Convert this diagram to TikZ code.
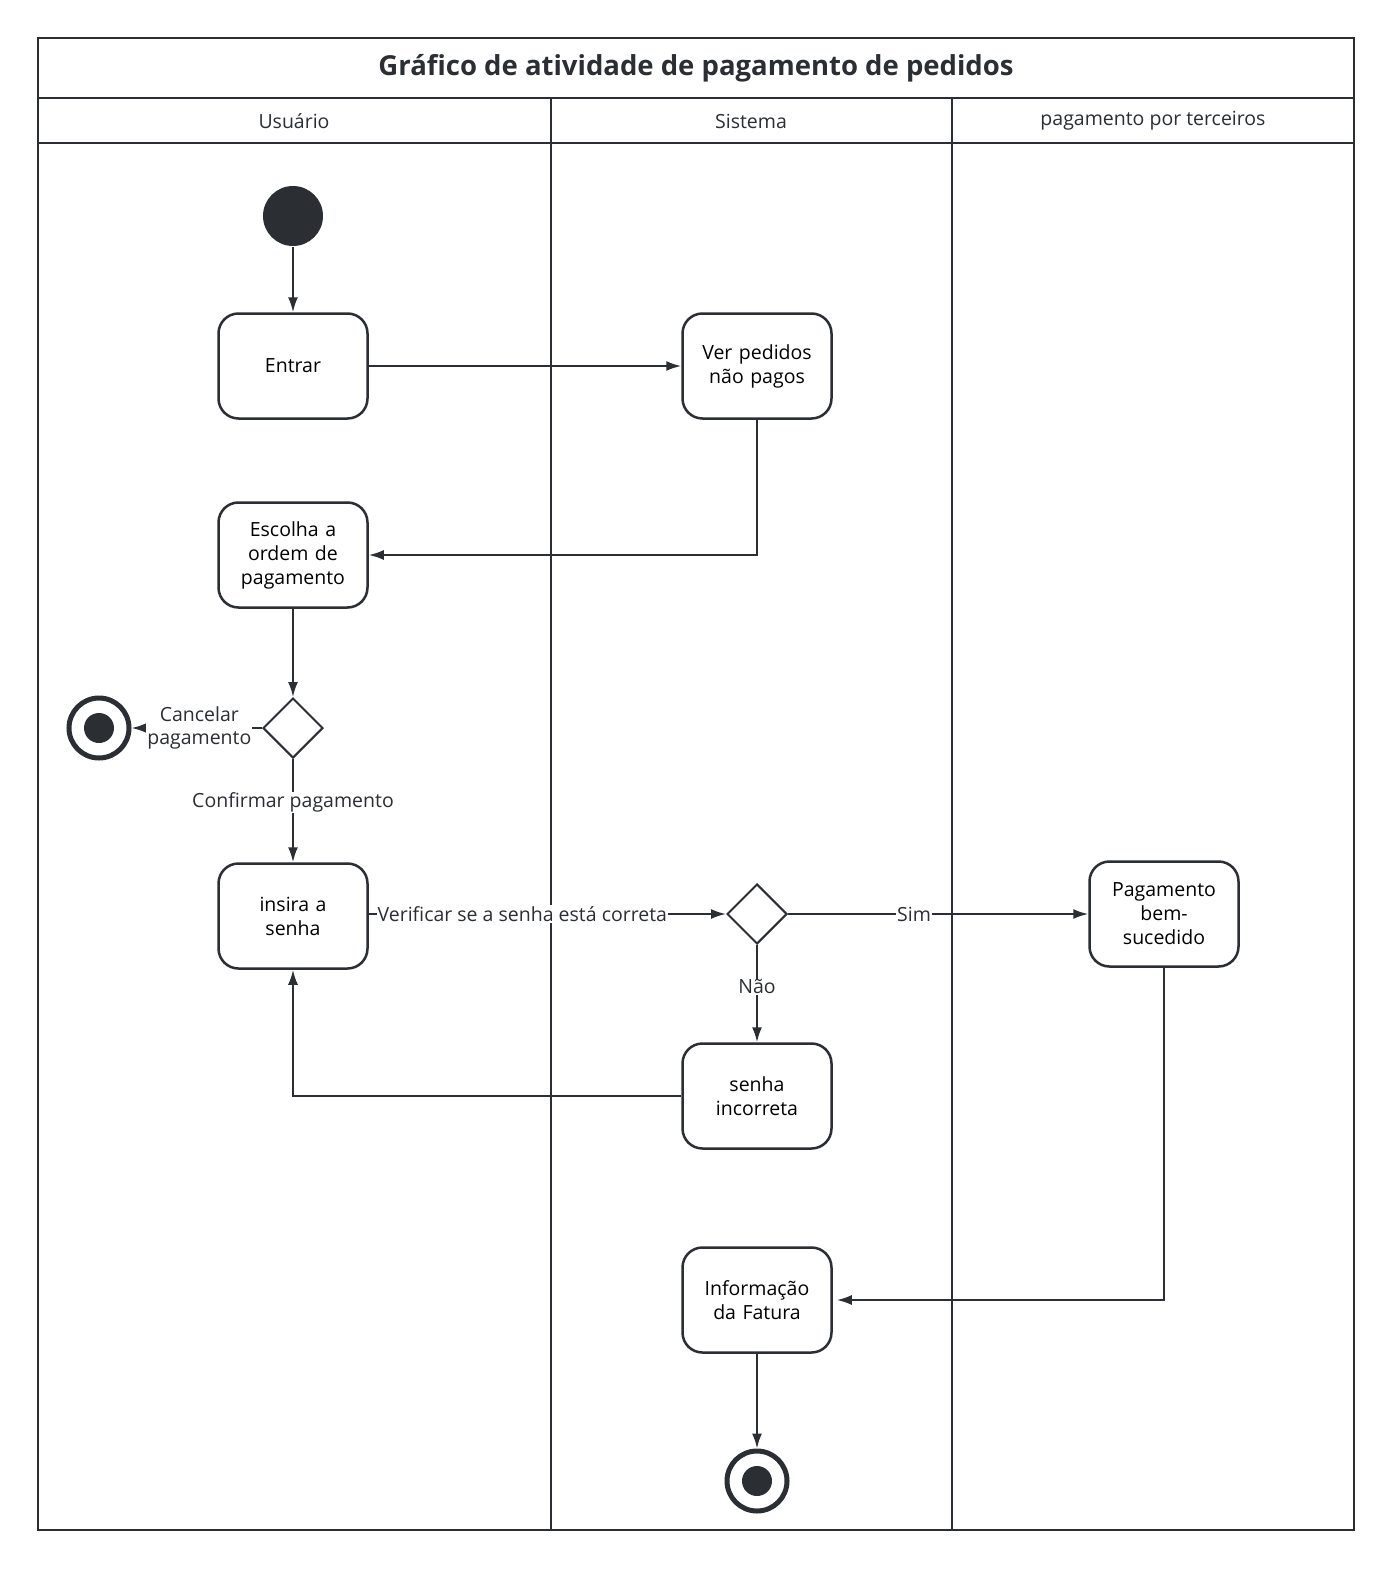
\documentclass[tikz,border=0pt]{standalone}
\usepackage{fontspec}
\setmainfont{Open Sans}
\usetikzlibrary{shapes.geometric,arrows.meta}
\definecolor{ink}{HTML}{2B2E33}
\begin{document}
\begin{tikzpicture}[x=1pt,y=-1pt,line width=2.8pt,draw=ink,
  act/.style={draw=ink,line width=2.5pt,rounded corners=20pt,minimum width=149pt,minimum height=105pt,align=center,font=\fontsize{19.5}{24}\selectfont,text width=120pt},
  dec/.style={draw=ink,diamond,minimum width=60pt,minimum height=60pt,inner sep=0pt,aspect=1,line width=2pt},
  arr/.style={-{Latex[length=15pt,width=10pt]},line width=2pt,ink},
  lbl/.style={fill=white,inner sep=1pt,font=\fontsize{19.5}{23}\selectfont,text=ink,align=center}]
\useasboundingbox (0,0) rectangle (1393,1570);
\fill[white] (0,0) rectangle (1393,1570);
\draw (38,38) rectangle (1354,1530);
\draw (38,98) -- (1354,98);
\draw (38,143) -- (1354,143);
\draw (551,98) -- (551,1530);
\draw (952,98) -- (952,1530);
\node[font=\bfseries\fontsize{27.5}{31}\selectfont,text=ink] (title) at (696,68) {Gráfico de atividade de pagamento de pedidos};
\node[font=\fontsize{19.5}{23}\selectfont,text=ink] (h1) at (294,121) {Usuário};
\node[font=\fontsize{19.5}{23}\selectfont,text=ink] (h2) at (751,121) {Sistema};
\node[font=\fontsize{19.5}{23}\selectfont,text=ink] (h3) at (1153,121) {pagamento por terceiros};

\node[circle,fill=ink,minimum size=60pt,inner sep=0pt] (start) at (293,216) {};
\node[act] (entrar) at (293,366) {Entrar};
\node[act] (ver) at (757,366) {Ver pedidos\\não pagos};
\node[act] (esc) at (293,555) {Escolha a\\ordem de\\pagamento};
\node[dec] (d1) at (293,728) {};
\node[circle,draw=ink,line width=5pt,minimum size=60pt,inner sep=0pt] (end1) at (99,728) {};
\fill[ink] (end1.center) circle (15pt);
\node[act] (ins) at (293,916) {insira a\\senha};
\node[dec] (d2) at (757,914) {};
\node[act] (pag) at (1164,914) {Pagamento\\bem-\\sucedido};
\node[act] (inc) at (757,1096) {senha\\incorreta};
\node[act] (inf) at (757,1300) {Informação\\da Fatura};
\node[circle,draw=ink,line width=5pt,minimum size=60pt,inner sep=0pt] (end2) at (757,1481) {};
\fill[ink] (end2.center) circle (15pt);

\draw[arr] (start) -- (entrar);
\draw[arr] (entrar) -- (ver);
\draw[arr] (ver.south) |- (esc.east);
\draw[arr] (esc) -- (d1);
\draw[arr] (d1) -- node[lbl,pos=0.48] {Cancelar\\pagamento} (end1);
\draw[arr] (d1) -- node[lbl,pos=0.42] {Confirmar pagamento} (ins);
\draw[arr] (ins.east |- d2) -- node[lbl,pos=0.43] {Verificar se a senha está correta} (d2);
\draw[arr] (d2) -- node[lbl,pos=0.42] {Sim} (pag);
\draw[arr] (d2) -- node[lbl,pos=0.43] {Não} (inc);
\draw[arr] (inc.west) -| (ins.south);
\draw[arr] (pag.south) |- ([xshift=4pt]inf.east);
\draw[arr] (inf) -- (end2);
\end{tikzpicture}
\end{document}
